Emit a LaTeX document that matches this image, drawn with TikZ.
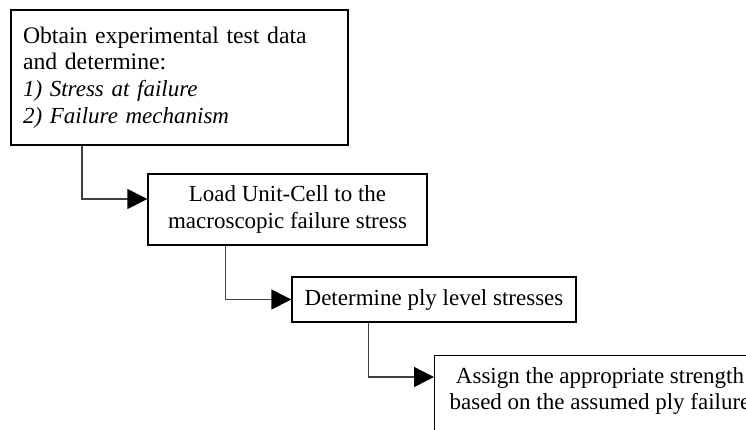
\documentclass[tikz,border=0pt]{standalone}
\usepackage{fontspec}
\setmainfont{Liberation Serif}
\usetikzlibrary{arrows.meta}
\begin{document}
\begin{tikzpicture}[x=1pt,y=-1pt,
  every node/.style={font=\fontsize{23}{26.7}\selectfont},
  stepbox/.style={draw=black, line width=1.4pt, rectangle, inner sep=0pt},
  firstbox/.style={draw=black, line width=2.4pt, rectangle, inner xsep=12pt, inner ysep=0pt},
  flow/.style={draw=black!75, line width=1.4pt,
    -{Triangle[length=20pt,width=20pt,color=black,fill=black]}}
]
  % page frame; the last box runs past its edge
  \clip (0,0) rectangle (746,429);

  % process boxes
  \node[firstbox, text width=313pt, align=left, minimum height=135pt]
    (obtain) at (179.5,77.5)
    {{\fontsize{23.7}{26.7}\selectfont Obtain experimental test data}\\
     {\fontsize{23.7}{26.7}\selectfont and determine:}\\
     \textit{1) Stress at failure}\\\textit{2) Failure mechanism}};
  \node[stepbox, align=center, minimum width=279pt, minimum height=71pt]
    (load) at (287.5,209.5)
    {Load Unit-Cell to the\\macroscopic failure stress};
  \node[stepbox, align=center, minimum width=284pt, minimum height=45pt]
    (ply) at (434,299.5)
    {Determine ply level stresses};
  \node[stepbox, anchor=north west, minimum width=340pt, minimum height=100pt]
    (assign) at (434,355) {};
  \node[align=center, inner sep=0pt] (assigntext) at (600,391)
    {Assign the appropriate strength\\based on the assumed ply failure};

  % connectors
  \draw[flow] ([xshift=72pt]obtain.south west) |- ([yshift=10.5pt]load.west);
  \draw[flow] ([xshift=78pt]load.south west) |- (ply.west);
  \draw[flow] ([xshift=77pt]ply.south west) |- ([yshift=-22pt]assign.north west);
\end{tikzpicture}
\end{document}
